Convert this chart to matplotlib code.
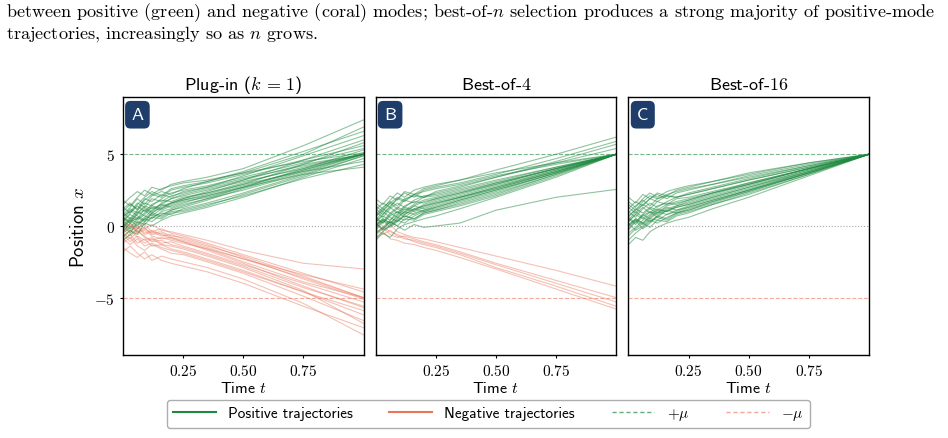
import numpy as np
import matplotlib
matplotlib.use("Agg")
import matplotlib.pyplot as plt
from matplotlib.ticker import FuncFormatter
from matplotlib.lines import Line2D

plt.rcParams['mathtext.fontset'] = 'cm'
plt.rcParams['font.family'] = ['cmss10', 'DejaVu Sans']
plt.rcParams['axes.unicode_minus'] = False

times = [0.0, 0.03, 0.06, 0.09, 0.12, 0.16, 0.20, 0.25, 0.35, 0.50, 0.75, 1.00]

# Panel A: plug-in (k = 1)
a_pos = [
    [0.3, 0.8, 0.5, 1.2, 0.9, 1.4, 1.6, 1.9, 2.3, 3.0, 4.1, 5.0],
    [-0.4, 0.2, 0.6, 0.3, 0.9, 0.7, 1.1, 1.3, 1.8, 2.6, 3.8, 5.0],
    [1.2, 1.6, 1.1, 1.8, 2.2, 2.0, 2.5, 2.7, 3.0, 3.6, 4.6, 5.6],
    [0.0, -0.5, 0.3, 0.1, 0.6, 0.9, 0.8, 1.2, 1.6, 2.3, 3.6, 4.9],
    [0.8, 1.3, 1.9, 1.5, 2.1, 2.4, 2.2, 2.6, 3.1, 3.8, 5.2, 6.6],
    [-0.8, -0.3, -0.6, 0.2, 0.0, 0.4, 0.7, 0.9, 1.3, 2.0, 3.4, 4.7],
    [0.5, 0.2, 0.9, 1.3, 1.0, 1.6, 1.9, 2.1, 2.5, 3.1, 4.0, 5.0],
    [1.5, 2.0, 2.4, 2.1, 2.7, 2.5, 2.9, 3.1, 3.4, 4.0, 5.6, 7.4],
    [0.1, 0.6, 0.4, 0.8, 1.3, 1.1, 1.4, 1.7, 2.0, 2.7, 3.9, 5.1],
    [-0.2, 0.4, 1.0, 0.7, 0.5, 1.0, 1.2, 1.5, 1.9, 2.5, 3.7, 5.0],
    [0.9, 0.5, 1.1, 1.6, 1.4, 1.9, 2.3, 2.5, 2.8, 3.4, 4.4, 5.4],
    [0.4, 1.1, 0.7, 0.4, 0.8, 0.6, 1.0, 1.1, 1.5, 2.1, 3.3, 4.3],
    [-0.5, -0.1, 0.5, 0.9, 1.4, 1.2, 1.6, 1.9, 2.4, 3.2, 4.6, 6.0],
    [1.0, 1.5, 1.2, 1.9, 1.7, 2.2, 2.0, 2.4, 2.7, 3.3, 4.2, 5.0],
    [0.2, -0.2, 0.1, 0.5, 0.3, 0.8, 1.1, 1.4, 1.9, 2.7, 4.0, 5.3],
    [0.7, 1.0, 1.6, 1.3, 1.9, 1.7, 2.1, 2.3, 2.7, 3.5, 4.9, 6.3],
    [-0.1, 0.5, 0.2, 0.6, 1.1, 1.5, 1.3, 1.6, 2.1, 2.8, 3.9, 5.0],
    [1.8, 1.4, 2.0, 2.5, 2.2, 2.6, 2.8, 3.0, 3.2, 3.7, 4.5, 5.1],
    [0.6, 0.3, 0.8, 1.1, 0.7, 1.2, 1.5, 1.8, 2.2, 2.9, 4.3, 5.8],
    [-1.0, -0.6, -0.2, 0.3, 0.6, 0.5, 0.9, 1.0, 1.4, 2.2, 3.5, 4.9],
    [0.3, 0.9, 1.4, 1.0, 1.5, 1.8, 1.7, 2.0, 2.3, 2.9, 3.8, 4.5],
    [1.3, 0.9, 1.5, 2.0, 2.4, 2.1, 2.6, 2.8, 3.1, 3.7, 5.0, 6.9],
    [0.0, 0.4, 0.0, 0.5, 0.9, 1.3, 1.6, 1.8, 2.1, 2.7, 3.6, 4.1],
    [0.6, 1.2, 0.9, 1.4, 1.2, 1.5, 1.9, 2.2, 2.6, 3.2, 4.3, 5.0],
]
a_neg = [
    [-0.3, 0.2, -0.4, -0.1, -0.6, -0.5, -0.8, -1.0, -1.5, -2.3, -3.6, -5.0],
    [0.4, -0.1, 0.3, -0.2, 0.1, -0.3, -0.4, -0.6, -1.0, -1.7, -2.6, -3.0],
    [-1.0, -0.6, -1.2, -0.9, -1.4, -1.3, -1.6, -1.8, -2.3, -3.1, -4.6, -6.2],
    [-0.6, -1.1, -0.7, -1.0, -0.8, -1.2, -1.1, -1.4, -1.9, -2.7, -4.0, -5.3],
    [0.1, -0.4, 0.0, -0.5, -0.3, -0.6, -0.9, -1.1, -1.6, -2.5, -3.9, -5.0],
    [-1.5, -1.9, -2.2, -1.8, -2.4, -2.1, -2.3, -2.5, -2.9, -3.7, -5.4, -7.6],
    [-0.2, -0.7, -0.3, -0.8, -1.0, -0.8, -1.0, -1.2, -1.6, -2.3, -3.4, -4.4],
    [0.6, 0.2, -0.2, 0.1, -0.4, -0.2, -0.5, -0.7, -1.2, -2.0, -3.3, -4.6],
    [-1.2, -0.8, -1.4, -1.7, -1.3, -1.6, -1.9, -2.0, -2.5, -3.3, -4.9, -6.6],
    [-0.4, 0.1, -0.5, -0.3, -0.7, -0.9, -0.8, -1.1, -1.7, -2.6, -4.2, -5.7],
    [-0.9, -1.3, -0.9, -1.4, -1.2, -1.5, -1.7, -1.9, -2.4, -3.2, -4.6, -5.9],
    [0.2, -0.3, -0.1, -0.6, -0.4, -0.7, -0.6, -0.9, -1.4, -2.1, -3.5, -5.0],
    [-1.8, -1.4, -1.9, -2.3, -2.0, -2.4, -2.6, -2.8, -3.2, -4.0, -5.6, -7.1],
    [-0.5, -0.9, -0.4, -0.7, -1.1, -1.0, -1.3, -1.5, -2.0, -2.8, -4.3, -5.6],
    [0.3, 0.0, -0.4, -0.2, -0.5, -0.4, -0.7, -0.8, -1.3, -2.2, -3.7, -5.1],
    [-0.7, -0.3, -0.8, -1.2, -0.9, -1.3, -1.4, -1.6, -2.1, -2.9, -4.5, -6.8],
]

# Panel B: best-of-4
b_pos = [
    [0.3, 0.7, 0.4, 1.0, 0.8, 1.2, 1.4, 1.7, 2.1, 2.8, 3.9, 5.0],
    [-0.6, -0.2, 0.3, 0.0, 0.5, 0.4, 0.8, 1.0, 1.4, 2.1, 3.5, 5.0],
    [1.4, 1.0, 1.6, 2.0, 1.8, 2.2, 2.4, 2.6, 2.9, 3.5, 4.3, 5.0],
    [0.0, 0.5, 0.2, 0.6, 1.0, 0.8, 1.1, 1.3, 1.8, 2.5, 3.7, 5.0],
    [0.8, 1.3, 1.7, 1.4, 1.9, 2.1, 2.0, 2.3, 2.7, 3.4, 4.4, 5.4],
    [-1.0, -0.5, -0.8, -0.2, 0.1, 0.3, 0.5, 0.7, 1.2, 2.0, 3.4, 5.0],
    [0.6, 0.2, 0.8, 1.2, 0.9, 1.4, 1.7, 1.9, 2.3, 3.0, 4.0, 5.0],
    [1.9, 1.5, 2.1, 1.8, 2.4, 2.2, 2.6, 2.8, 3.2, 3.9, 5.0, 6.2],
    [0.1, 0.5, 0.2, 0.7, 1.2, 1.0, 1.3, 1.6, 2.0, 2.6, 3.8, 5.0],
    [-0.3, 0.3, 0.9, 0.6, 0.4, 0.9, 1.1, 1.4, 1.9, 2.6, 3.8, 5.0],
    [1.0, 0.6, 1.2, 1.6, 1.3, 1.8, 2.1, 2.2, 2.6, 3.2, 4.1, 5.0],
    [0.4, 1.0, 0.6, 0.3, 0.7, 0.5, 0.9, 1.1, 1.6, 2.3, 3.6, 5.0],
    [-0.5, -0.1, 0.4, 0.8, 1.3, 1.1, 1.5, 1.8, 2.2, 2.9, 4.0, 5.0],
    [1.1, 1.6, 1.3, 1.9, 1.7, 2.2, 2.0, 2.4, 2.8, 3.4, 4.5, 5.7],
    [0.2, -0.3, 0.0, 0.4, 0.2, 0.7, 1.0, 1.2, 1.7, 2.4, 3.7, 5.0],
    [0.7, 1.1, 1.6, 1.2, 1.8, 1.6, 2.0, 2.1, 2.5, 3.1, 4.1, 5.0],
    [-0.2, 0.4, 0.1, 0.5, 1.0, 1.4, 1.2, 1.5, 2.0, 2.7, 3.9, 5.0],
    [1.6, 1.2, 1.8, 2.3, 2.0, 2.5, 2.7, 2.9, 3.2, 3.7, 4.4, 5.0],
    [0.5, 0.2, 0.7, 1.0, 0.6, 1.1, 1.4, 1.6, 2.0, 2.7, 3.8, 5.0],
    [-0.9, -0.4, 0.0, 0.4, 0.7, 0.5, 0.9, 1.1, 1.5, 2.2, 3.6, 5.0],
    [0.3, 0.8, 1.3, 0.9, 1.4, 1.7, 1.6, 1.9, 2.3, 2.9, 4.0, 5.0],
    [1.2, 0.8, 1.4, 1.9, 2.3, 2.0, 2.5, 2.7, 3.0, 3.6, 4.7, 5.9],
    [0.0, 0.4, -0.1, 0.3, 0.8, 1.2, 1.0, 1.3, 1.8, 2.5, 3.7, 5.0],
    [0.6, 1.2, 0.9, 1.3, 1.1, 1.5, 1.8, 2.0, 2.4, 3.0, 4.0, 5.0],
    [0.2, -0.2, 0.3, 0.0, -0.3, 0.1, -0.1, 0.0, 0.2, 1.1, 2.0, 2.55],
]
b_neg = [
    [0.2, -0.3, 0.1, -0.4, -0.6, -0.8, -0.9, -1.1, -1.5, -2.1, -3.1, -4.2],
    [-0.5, -0.1, -0.6, -0.8, -0.7, -0.9, -1.1, -1.3, -1.8, -2.6, -3.8, -5.0],
    [-0.2, -0.6, -0.3, -0.7, -0.9, -1.0, -1.2, -1.4, -1.9, -2.7, -4.0, -5.3],
    [0.4, 0.0, -0.4, -0.6, -0.8, -1.1, -1.3, -1.5, -2.0, -2.9, -4.2, -5.6],
    [-0.8, -0.4, -0.9, -1.0, -1.2, -1.3, -1.5, -1.7, -2.2, -3.0, -4.4, -5.8],
]

# Panel C: best-of-16
c_pos = [
    [0.3, 0.8, 0.5, 1.0, 0.8, 1.2, 1.4, 1.6, 2.1, 2.8, 3.9, 5.0],
    [-0.7, -0.2, 0.2, -0.1, 0.4, 0.3, 0.7, 0.9, 1.5, 2.3, 3.6, 5.0],
    [1.5, 1.1, 1.7, 2.1, 1.9, 2.2, 2.4, 2.6, 2.9, 3.5, 4.3, 5.0],
    [0.0, 0.5, 0.2, 0.6, 1.0, 0.8, 1.1, 1.3, 1.8, 2.5, 3.8, 5.0],
    [0.9, 1.4, 1.8, 1.4, 1.9, 2.1, 2.0, 2.2, 2.6, 3.2, 4.1, 5.0],
    [-1.3, -0.8, -1.0, -0.4, -0.1, 0.2, 0.4, 0.6, 1.2, 2.0, 3.5, 5.0],
    [0.6, 0.2, 0.8, 1.2, 0.9, 1.4, 1.6, 1.8, 2.3, 3.0, 4.0, 5.0],
    [2.0, 1.6, 2.2, 1.9, 2.3, 2.1, 2.5, 2.7, 3.1, 3.6, 4.4, 5.0],
    [0.1, 0.5, 0.2, 0.7, 1.1, 1.0, 1.3, 1.5, 2.0, 2.7, 3.8, 5.0],
    [-0.3, 0.3, 0.8, 0.5, 0.4, 0.8, 1.0, 1.3, 1.8, 2.5, 3.7, 5.0],
    [1.0, 0.6, 1.2, 1.6, 1.3, 1.7, 2.0, 2.2, 2.6, 3.2, 4.1, 5.0],
    [0.4, 1.0, 0.6, 0.3, 0.7, 0.5, 0.9, 1.1, 1.6, 2.4, 3.7, 5.0],
    [-0.5, -0.1, 0.4, 0.8, 1.2, 1.0, 1.4, 1.7, 2.2, 2.9, 4.0, 5.0],
    [1.2, 1.7, 1.4, 1.9, 1.7, 2.1, 2.0, 2.3, 2.7, 3.3, 4.2, 5.0],
    [0.2, -0.3, 0.0, 0.4, 0.2, 0.6, 0.9, 1.1, 1.7, 2.5, 3.7, 5.0],
    [0.7, 1.1, 1.5, 1.2, 1.7, 1.5, 1.9, 2.0, 2.4, 3.0, 4.0, 5.0],
    [-0.2, 0.4, 0.1, 0.5, 0.9, 1.3, 1.1, 1.4, 1.9, 2.6, 3.8, 5.0],
    [1.7, 1.3, 1.9, 2.3, 2.0, 2.4, 2.6, 2.8, 3.1, 3.7, 4.4, 5.0],
    [0.5, 0.1, 0.7, 1.0, 0.6, 1.1, 1.3, 1.5, 2.0, 2.7, 3.9, 5.0],
    [-1.0, -0.5, -0.1, 0.3, 0.6, 0.4, 0.8, 1.0, 1.5, 2.2, 3.6, 5.0],
    [0.3, 0.8, 1.3, 0.9, 1.4, 1.6, 1.5, 1.8, 2.3, 2.9, 4.0, 5.0],
    [1.3, 0.9, 1.5, 1.9, 2.2, 1.9, 2.3, 2.5, 2.9, 3.4, 4.2, 5.0],
    [0.0, 0.4, -0.2, 0.2, 0.7, 1.1, 0.9, 1.2, 1.7, 2.4, 3.7, 5.0],
    [0.6, 1.2, 0.9, 1.3, 1.1, 1.5, 1.7, 1.9, 2.3, 2.9, 4.0, 5.0],
]
c_neg = []

titles = [r'Plug-in ($k\,=\,1$)', 'Best-of-$4$', 'Best-of-$16$']
panel_tags = ['A', 'B', 'C']
mu = 5

green = '#1f8a3f'
coral = '#e8765c'
navy = '#1f3d6b'

fig, axes = plt.subplots(1, 3, figsize=(9.48, 4.39), dpi=100, sharey=True)
fig.subplots_adjust(left=0.1297, right=0.9167, bottom=0.189, top=0.777, wspace=0.05)

panels = [(a_pos, a_neg), (b_pos, b_neg), (c_pos, c_neg)]
for ax, (pos, neg), title, tag in zip(axes, panels, titles, panel_tags):
    for traj in neg:
        ax.plot(times, traj, color=coral, lw=0.8, alpha=0.45)
    for traj in pos:
        ax.plot(times, traj, color=green, lw=0.8, alpha=0.5)
    ax.axhline(mu, color=green, ls='--', lw=0.8, alpha=0.6)
    ax.axhline(-mu, color=coral, ls='--', lw=0.8, alpha=0.6)
    ax.axhline(0, color='gray', ls=':', lw=0.8, alpha=0.7)
    ax.set_xlim(0, 1)
    ax.set_ylim(-9, 9)
    ax.set_xticks([0.25, 0.5, 0.75])
    ax.xaxis.set_major_formatter(FuncFormatter(lambda v, p: f'${v:.2f}$'))
    ax.tick_params(labelsize=11, length=2.5)
    ax.set_xlabel('Time $t$', fontsize=11.5, labelpad=1)
    ax.set_title(title, fontsize=13, pad=6)
    for s in ax.spines.values():
        s.set_linewidth(1.0)
    ax.text(0.06, 0.96, tag, transform=ax.transAxes, color='white', fontsize=13,
            ha='center', va='top',
            bbox=dict(boxstyle='round,pad=0.35,rounding_size=0.3', fc=navy, ec='none'))

axes[0].set_yticks([-5, 0, 5])
axes[0].yaxis.set_major_formatter(FuncFormatter(lambda v, p: f'${v:.0f}$'))
axes[0].set_ylabel('Position $x$', fontsize=13.5)
for ax in axes[1:]:
    ax.tick_params(left=False)

handles = [
    Line2D([], [], color=green, lw=1.5),
    Line2D([], [], color=coral, lw=1.5),
    Line2D([], [], color='#5fae78', lw=1.0, ls=(0, (3, 2))),
    Line2D([], [], color='#f2a894', lw=1.0, ls=(0, (3, 2))),
]
labels = ['Positive trajectories', 'Negative trajectories', r'$+\mu$', r'$-\mu$']
fig.legend(handles, labels, loc='center', bbox_to_anchor=(0.515, 0.055), ncol=4,
           fontsize=11, frameon=True, edgecolor='#999999', fancybox=True,
           handlelength=2.8, columnspacing=2.4, borderpad=0.4)

caption = [
    'between positive (green) and negative (coral) modes; best-of-$n$ selection produces a strong majority of positive-mode',
    'trajectories, increasingly so as $n$ grows.',
]
fig.text(0.006, 0.972, caption[0], fontsize=13.1, family='cmr10', va='center')
fig.text(0.006, 0.923, caption[1], fontsize=13.1, family='cmr10', va='center')

fig.savefig('out.png', dpi=100)
